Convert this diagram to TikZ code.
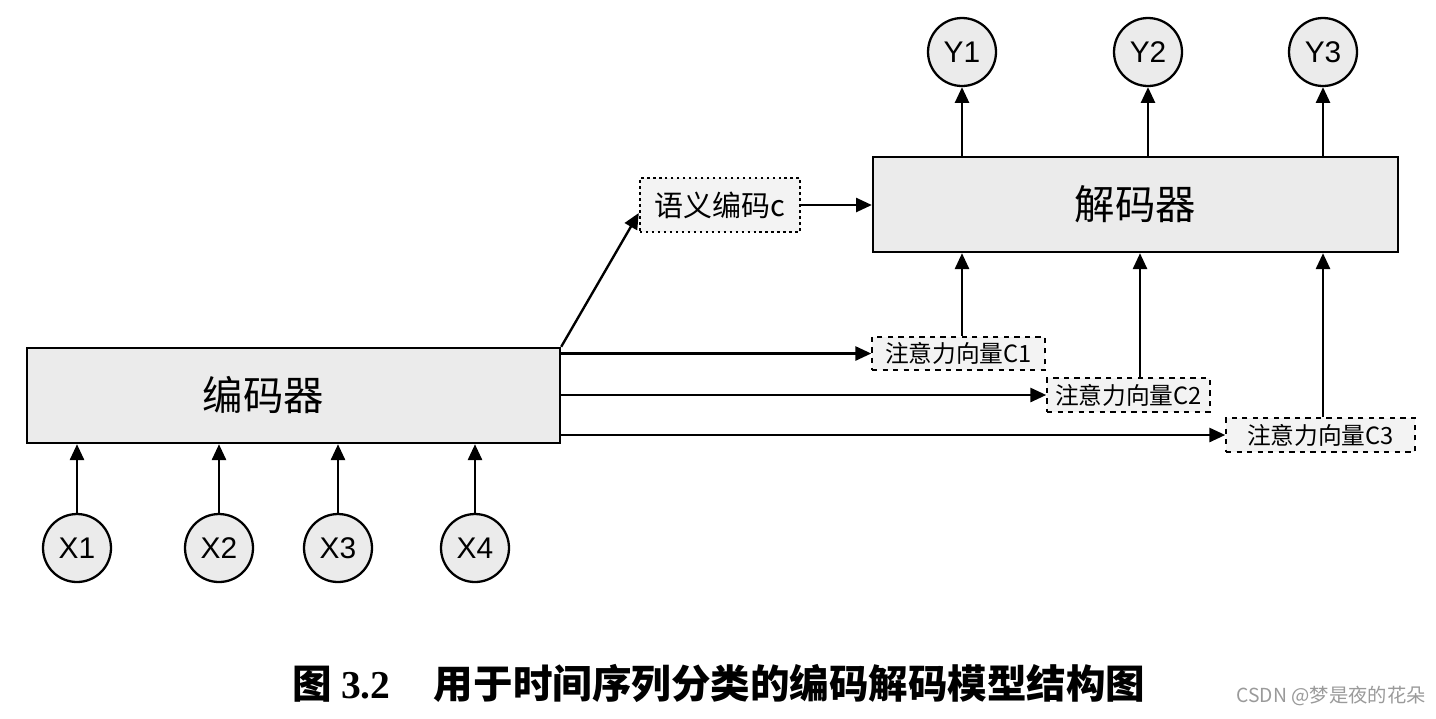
\documentclass[tikz,border=0pt]{standalone}
\usepackage{fontspec}
\setmainfont{Liberation Sans}
\newfontfamily\cjk{Noto Sans CJK SC}
\newfontfamily\serifb{Liberation Serif}
\usetikzlibrary{arrows.meta,calc}
\definecolor{boxfill}{HTML}{EBEBEB}
\definecolor{wm}{HTML}{9A9A9A}
\tikzset{
  arr/.style={-{Triangle[length=9pt,width=8pt]}, line width=1.35pt},
  bigbox/.style={draw, line width=1.4pt, fill=boxfill, minimum height=1.9cm, inner sep=0pt, font=\cjk\fontsize{23}{23}\selectfont},
  io/.style={circle, draw, line width=1.3pt, fill=boxfill, minimum size=1.36cm, inner sep=0pt, font=\fontsize{17}{17}\selectfont},
  vecbox/.style={draw, dashed, line width=0.9pt, fill=boxfill!60, minimum height=0.67cm, inner sep=0pt, font=\cjk\fontsize{13.5}{13.5}\selectfont},
  sembox/.style={draw, dotted, line width=1.4pt, fill=boxfill!60, minimum width=3.2cm, minimum height=1.08cm, inner sep=0pt, font=\cjk\fontsize{16.5}{16.5}\selectfont},
}
\begin{document}
\begin{tikzpicture}[x=0.02cm, y=-0.02cm]
\useasboundingbox[fill=white] (0,0) rectangle (1436,718);
% encoder / decoder
\node[bigbox, minimum width=10.66cm, label={[font=\cjk\fontsize{23}{23}\selectfont, xshift=-0.6cm]center:编码器}] (enc) at (293.5,395.5) {};
\node[bigbox, minimum width=10.5cm] (dec) at (1135.5,204.5) {解码器};
% inputs
\node[io] (x1) at (77,548) {X1};
\node[io] (x2) at (219,548) {X2};
\node[io] (x3) at (338,548) {X3};
\node[io] (x4) at (475,548) {X4};
% outputs
\node[io] (y1) at (962,52) {Y1};
\node[io] (y2) at (1148,52) {Y2};
\node[io] (y3) at (1323,52) {Y3};
% semantic code
\node[sembox] (sem) at (720,205) {语义编码c};
% attention vectors
\node[vecbox, minimum width=3.46cm] (c1) at (958.5,353.5) {注意力向量C1};
\node[vecbox, minimum width=3.26cm] (c2) at (1128.5,395) {注意力向量C2};
\node[vecbox, minimum width=3.78cm] (c3) at (1320.5,435) {注意力向量C3};
% input arrows
\foreach \n in {x1,x2,x3,x4} \draw[arr] (\n.north) -- (\n |- enc.south);
% output arrows
\foreach \n in {y1,y2,y3} \draw[arr] (\n |- dec.north) -- (\n.south);
% semantic
\draw[arr] (enc.north east) -- ($(sem.west)+(0,8)$);
\draw[arr] (sem.east) -- (sem.east -| dec.west);
% attention arrows
\draw[arr] (enc.east |- c1.west) -- (c1.west);
\draw[arr] (enc.east |- c2.west) -- (c2.west);
\draw[arr] (enc.east |- c3.west) -- (c3.west);
\coordinate (a1) at (962,0);
\coordinate (a2) at (1140,0);
\coordinate (a3) at (1323,0);
\draw[arr] (a1 |- c1.north) -- (a1 |- dec.south);
\draw[arr] (a2 |- c2.north) -- (a2 |- dec.south);
\draw[arr] (a3 |- c3.north) -- (a3 |- dec.south);
% caption
\node[font=\cjk\bfseries\fontsize{22.5}{22.5}\selectfont, inner sep=0pt] (cap) at (719,683) {图 {\serifb\bfseries 3.2}\hspace{1.1em}用于时间序列分类的编码解码模型结构图};
\node[font=\cjk\fontsize{11}{11}\selectfont, text=wm, anchor=east, inner sep=0pt] (wmk) at (1426,696) {CSDN @梦是夜的花朵};
\end{tikzpicture}
\end{document}
